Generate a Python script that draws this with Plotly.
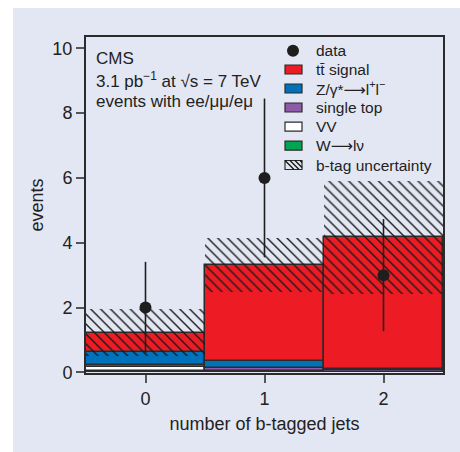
import numpy as np
import plotly.graph_objects as go

# ---- data ----
bins = [0, 1, 2]
data_counts = [2, 6, 3]
data_err = [1.41, 2.45, 1.73]

w_lnu = [0.05, 0.04, 0.01]
vv = [0.12, 0.01, 0.0]
single_top = [0.05, 0.09, 0.06]
z_ll = [0.40, 0.20, 0.02]
ttbar = [0.60, 2.97, 4.08]
btag_unc = [0.72, 0.84, 1.75]

FONT = "Liberation Sans Narrow, Arial Narrow, Liberation Sans, Arial, sans-serif"
BG = "#e3e7f3"
EDGE = "#2b2b2b"
INK = "#1e1e1e"
ARROW = "<span style='font-family:DejaVu Sans'>\u27f6</span>"

components = [
    ("W" + ARROW + "l\u03bd", w_lnu, "#00a651"),
    ("VV", vv, "#ffffff"),
    ("single top", single_top, "#8f5aa8"),
    ("Z/\u03b3*" + ARROW + "l<sup>+</sup>l<sup>\u2212</sup>", z_ll, "#0072bc"),
    ("tt\u0304 signal", ttbar, "#ed1c24"),
]

fig = go.Figure()
base = np.zeros(len(bins))
for name, vals, col in components:
    vals = np.array(vals, dtype=float)
    fig.add_trace(go.Bar(
        x=bins, y=vals, base=base, width=1.0, name=name, showlegend=False,
        marker=dict(color=col, line=dict(color=EDGE, width=1.5)),
        hoverinfo="skip",
    ))
    base = base + vals

total = base
unc = np.array(btag_unc)
HATCH = dict(shape="\\", fgcolor="#1a1a1a", bgcolor="rgba(0,0,0,0)", fgopacity=1,
             size=7, solidity=0.2)
fig.add_trace(go.Bar(
    x=bins, y=2 * unc, base=total - unc, width=1.0, name="b-tag uncertainty",
    showlegend=False,
    marker=dict(color="rgba(0,0,0,0)", line=dict(width=0), pattern=HATCH),
    hoverinfo="skip",
))

fig.add_trace(go.Scatter(
    x=bins, y=data_counts, mode="markers", name="data", showlegend=False,
    marker=dict(color=INK, size=12, symbol="circle"),
    error_y=dict(type="data", array=data_err, color=INK, thickness=1.6, width=0),
))

# ---- info text ----
texts = ["CMS", "3.1 pb<sup>\u22121</sup> at \u221as = 7 TeV", "events with ee/\u03bc\u03bc/e\u03bc"]
text_px = [58, 80, 101]
for t, py in zip(texts, text_px):
    fig.add_annotation(x=(94 - 86) / 357, y=(373 - py) / 336, xref="paper", yref="paper",
                       text=t, showarrow=False, xanchor="left", yanchor="middle",
                       font=dict(family=FONT, size=17, color="#222222"))

# ---- hand-drawn legend (paper coordinates) ----
def px(xp):
    return (xp - 86) / 357

def py_(yp):
    return (373 - yp) / 336

legend_items = [
    ("data", None),
    ("tt\u0304 signal", "#ed1c24"),
    (components[3][0], "#0072bc"),
    ("single top", "#8f5aa8"),
    ("VV", "#ffffff"),
    (components[0][0], "#00a651"),
    ("b-tag uncertainty", "hatch"),
]
leg_y = [50.7, 69.5, 88.5, 107.5, 126.7, 145.7, 165]
shapes = [dict(type="rect", xref="paper", yref="paper",
               x0=-0.2045, x1=1.05, y0=-0.24, y1=1.0863,
               fillcolor=BG, line=dict(width=0), layer="below")]
for (label, col), yy in zip(legend_items, leg_y):
    if col is None:
        shapes.append(dict(type="circle", xref="paper", yref="paper",
                           x0=px(287), x1=px(299), y0=py_(yy + 6), y1=py_(yy - 6),
                           fillcolor=INK, line=dict(width=0)))
    elif col == "hatch":
        shapes.append(dict(type="rect", xref="paper", yref="paper",
                           x0=px(285), x1=px(302), y0=py_(yy + 4.5), y1=py_(yy - 4.5),
                           fillcolor="rgba(0,0,0,0)", line=dict(color=EDGE, width=1.2)))
        for k in range(4):
            x_start = 285 + k * 5
            shapes.append(dict(type="line", xref="paper", yref="paper",
                               x0=px(x_start), y0=py_(yy - 4.5),
                               x1=px(min(x_start + 9, 302)),
                               y1=py_(yy - 4.5 + (min(x_start + 9, 302) - x_start)),
                               line=dict(color="#111111", width=1.2)))
    else:
        shapes.append(dict(type="rect", xref="paper", yref="paper",
                           x0=px(285), x1=px(302), y0=py_(yy + 4.5), y1=py_(yy - 4.5),
                           fillcolor=col, line=dict(color=EDGE, width=1.2)))
    fig.add_annotation(x=px(314), y=py_(yy), xref="paper", yref="paper", text=label,
                       showarrow=False, xanchor="left", yanchor="middle",
                       font=dict(family=FONT, size=15.5, color="#222222"))

fig.update_layout(
    width=460, height=452,
    margin=dict(l=86, r=17, t=37, b=79),
    paper_bgcolor="white", plot_bgcolor=BG,
    barmode="overlay", bargap=0,
    font=dict(family=FONT, size=17, color="#222222"),
    showlegend=False,
    shapes=shapes,
)
fig.update_xaxes(range=[-0.5, 2.5], tickvals=bins, ticktext=["0", "1", "2"],
                 showgrid=False, zeroline=False, showline=True, mirror=True,
                 linecolor=EDGE, linewidth=2, ticks="outside", ticklen=8,
                 tickcolor="#555555", tickwidth=1.5,
                 title=dict(text="number of b-tagged jets", standoff=10,
                            font=dict(family=FONT, size=18)),
                 tickfont=dict(family=FONT, size=18))
fig.update_yaxes(range=[-0.02, 10.35], tickvals=[0, 2, 4, 6, 8, 10],
                 showgrid=False, zeroline=False, showline=True, mirror=True,
                 linecolor=EDGE, linewidth=2, ticks="outside", ticklen=8,
                 tickcolor="#555555", tickwidth=1.5,
                 title=dict(text="events", standoff=4,
                            font=dict(family=FONT, size=18)),
                 tickfont=dict(family=FONT, size=18))

fig.write_html("out.html")
